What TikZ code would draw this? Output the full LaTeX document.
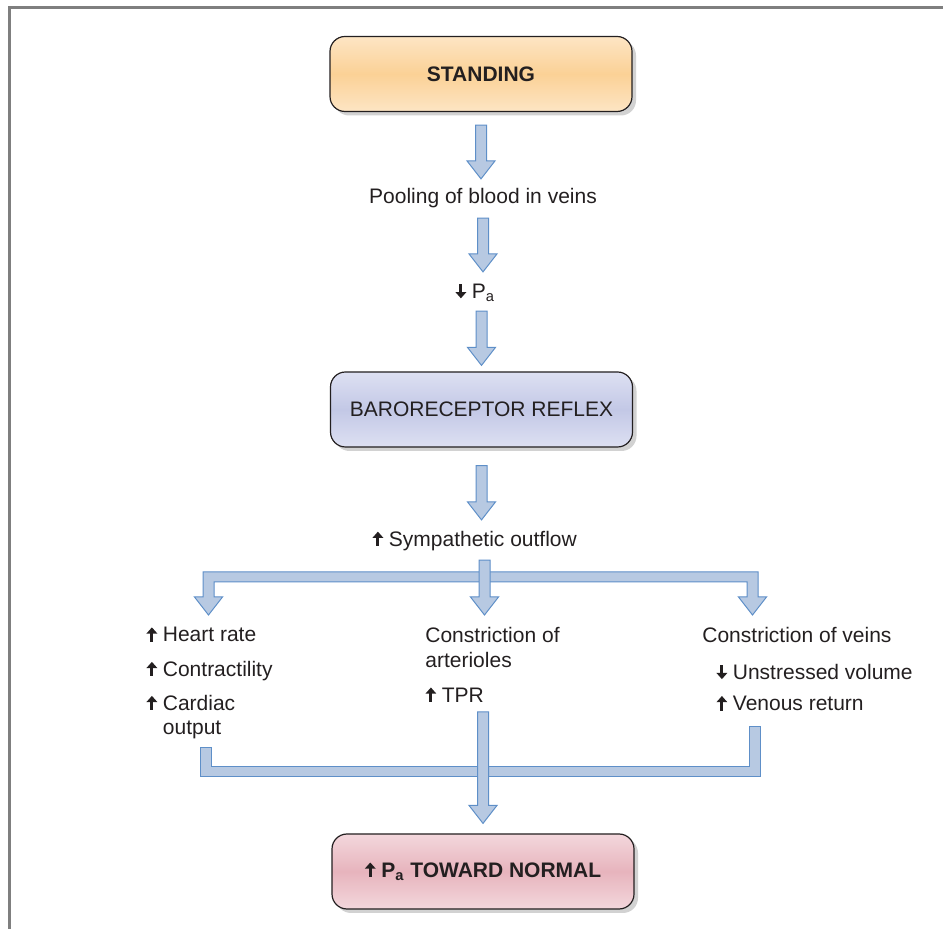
\documentclass[tikz,border=0pt]{standalone}
\usepackage{fontspec}
\setmainfont{Liberation Sans}
\usetikzlibrary{positioning,calc,shadows}
\definecolor{ink}{HTML}{231F20}
\definecolor{frm}{HTML}{7F7F7F}
\definecolor{arrfill}{HTML}{B7C9E2}
\definecolor{arrline}{HTML}{5E8FC8}
\definecolor{orlt}{HTML}{FDE5C4}
\definecolor{ormid}{HTML}{FBD196}
\definecolor{bllt}{HTML}{DDE0F2}
\definecolor{blmid}{HTML}{C3C8E6}
\definecolor{pklt}{HTML}{F3D7DC}
\definecolor{pkmid}{HTML}{E7B4BD}
\tikzset{
  box/.style={draw=ink,line width=0.6pt,rounded corners=7.5pt,minimum width=151pt,minimum height=37.5pt,font=\fontsize{10.5}{12.5}\selectfont,text=ink,drop shadow={shadow xshift=2pt,shadow yshift=-2pt,opacity=0.25,fill=black!70}},
  orbox/.style={box,top color=orlt,bottom color=orlt,middle color=ormid},
  blbox/.style={box,top color=bllt,bottom color=bllt,middle color=blmid},
  pkbox/.style={box,top color=pklt,bottom color=pklt,middle color=pkmid},
  txt/.style={font=\fontsize{10.5}{12.5}\selectfont,text=ink,inner sep=0pt,text height=7.5pt,text depth=2.2pt},
  col/.style={font=\fontsize{10.5}{12.25}\selectfont,text=ink,inner sep=0pt,align=left,anchor=north west},
  barr/.style={fill=arrfill,draw=arrline,line width=0.5pt,line join=miter},
  frame/.style={draw=frm,line width=1.5pt},
}
% small up / down arrows in the text
\newsavebox{\upbox}
\newsavebox{\dnbox}
\sbox{\upbox}{\tikz[baseline=0pt,x=1pt,y=1pt]{\fill[ink] (-0.75,0) rectangle (0.75,4.4); \fill[ink] (-2.75,4.2) -- (2.75,4.2) -- (0,7.3) -- cycle;}}
\sbox{\dnbox}{\tikz[baseline=0pt,x=1pt,y=1pt]{\fill[ink] (-0.75,2.9) rectangle (0.75,7.3); \fill[ink] (-2.75,3.1) -- (2.75,3.1) -- (0,0) -- cycle;}}
\newcommand{\upar}{\usebox{\upbox}\hspace{2.75pt}}
\newcommand{\dnar}{\usebox{\dnbox}\hspace{2.75pt}}
% block arrow: start, gap (px), end, gap (px)
\newcommand{\barrow}[4]{%
  \draw[barr] let \p1=#1, \p2=#3 in
    (\x1-2.75pt,{\y1-#2*0.5pt}) -- (\x1+2.75pt,{\y1-#2*0.5pt})
    -- (\x1+2.75pt,{\y2+#4*0.5pt+9pt}) -- (\x1+7pt,{\y2+#4*0.5pt+9pt})
    -- (\x1,{\y2+#4*0.5pt}) -- (\x1-7pt,{\y2+#4*0.5pt+9pt})
    -- (\x1-2.75pt,{\y2+#4*0.5pt+9pt}) -- cycle;}
\begin{document}
\begin{tikzpicture}[x=0.5pt,y=-0.5pt]
\useasboundingbox (0,0) rectangle (943,929);
\draw[frame] (9.5,929) -- (9.5,7.5) -- (943,7.5);
% boxes and texts
\node[orbox] (stand) at (481,74) {\textbf{STANDING}};
\node[txt] (pool) at (483,198) {Pooling of blood in veins};
\node[txt,anchor=west] (pa) at (455,293) {\dnar P\textsubscript{a}};
\node[blbox] (baro) at (481.5,409.5) {BARORECEPTOR REFLEX};
\node[txt,anchor=west] (symp) at (372,541) {\upar Sympathetic outflow};
\node[col] (lcol) at (146,627) {\upar Heart rate\\[5pt]\upar Contractility\\[4.75pt]\upar Cardiac\\\hspace*{8.25pt}output};
\node[col] (mcol) at (425,627) {Constriction of\\arterioles\\[5.25pt]\upar TPR};
\node[col] (rcol) at (702,627) {Constriction of veins\\[6pt]\hspace*{7pt}\dnar Unstressed volume\\[3.5pt]\hspace*{7pt}\upar Venous return};
\node[pkbox] (norm) at (483,871.5) {\textbf{\upar P\textsubscript{a} TOWARD NORMAL}};
% arrow ends
\coordinate (tL) at (208.5,615);
\coordinate (tC) at (484.5,615);
\coordinate (tR) at (752.5,615);
\coordinate (sL) at (205.5,748);
\coordinate (sC) at (483,712);
\coordinate (sR) at (755,727);
% connectors
\barrow{(stand.south)}{13}{(pool.north)}{9}
\barrow{(pool.south)}{10}{(pa.north)}{11}
\barrow{(baro.north |- pa.south)}{8}{(baro.north)}{6}
\barrow{(baro.south)}{18}{(symp.north)}{11}
\draw[barr] ($(tL)+(-5.5,-43)$) -- ($(tR)+(5.5,-43)$) -- ($(tR)+(5.5,-18)$) -- ($(tR)+(14,-18)$) -- (tR)
  -- ($(tR)+(-14,-18)$) -- ($(tR)+(-5.5,-18)$) -- ($(tR)+(-5.5,-33)$) -- ($(tL)+(5.5,-33)$) -- ($(tL)+(5.5,-18)$)
  -- ($(tL)+(14,-18)$) -- (tL) -- ($(tL)+(-14,-18)$) -- ($(tL)+(-5.5,-18)$) -- cycle;
\barrow{(tC |- symp.south)}{9}{(tC)}{0}
\draw[barr] ($(sL)+(-5.5,0)$) -- ($(sL)+(5.5,0)$) -- ($(sL)+(5.5,19)$) -- ($(sR)+(-5.5,40)$) -- ($(sR)+(-5.5,0)$)
  -- ($(sR)+(5.5,0)$) -- ($(sR)+(5.5,50)$) -- ($(sL)+(-5.5,29)$) -- cycle;
\barrow{(sC)}{0}{(norm.north)}{10}
\end{tikzpicture}
\end{document}
